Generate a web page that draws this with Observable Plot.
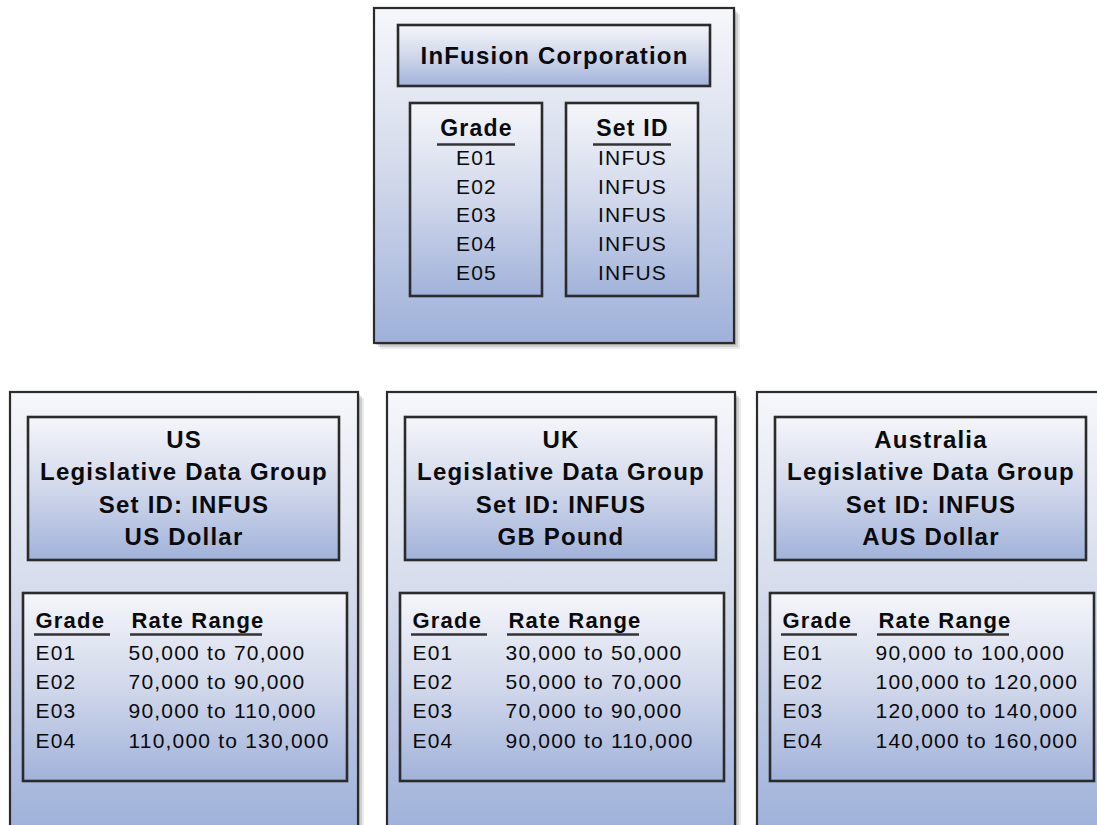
<!DOCTYPE html>
<html>
<head>
<meta charset="utf-8">
<script src="https://cdn.jsdelivr.net/npm/d3@7"></script>
<script src="https://cdn.jsdelivr.net/npm/@observablehq/plot@0.6"></script>
<style>
  html, body { margin: 0; padding: 0; background: #ffffff; }
  #chart svg { display: block; }
</style>
</head>
<body>
<div id="chart"></div>
<script>
// ---------------- DATA ----------------
const enterpriseName = "InFusion Corporation";
const enterpriseColumns = ["Grade", "Set ID"];
const enterpriseGrades = ["E01", "E02", "E03", "E04", "E05"];
const enterpriseSetIds = ["INFUS", "INFUS", "INFUS", "INFUS", "INFUS"];

const ldgCountries = ["US", "UK", "Australia"];
const ldgLabel = "Legislative Data Group";
const ldgSetIds = ["INFUS", "INFUS", "INFUS"];
const ldgCurrencies = ["US Dollar", "GB Pound", "AUS Dollar"];

const rateColumns = ["Grade", "Rate Range"];
const rateGrades = ["E01", "E02", "E03", "E04"];
const usLow = [50000, 70000, 90000, 110000];
const usHigh = [70000, 90000, 110000, 130000];
const ukLow = [30000, 50000, 70000, 90000];
const ukHigh = [50000, 70000, 90000, 110000];
const auLow = [90000, 100000, 120000, 140000];
const auHigh = [100000, 120000, 140000, 160000];
const rateLows = [usLow, ukLow, auLow];
const rateHighs = [usHigh, ukHigh, auHigh];

// ---------------- LAYOUT ----------------
const W = 1097, H = 825;
const fmt = d3.format(",");
const L = {
  top: {x: 374, y: 8, w: 360, h: 335},
  topTitle: {dx: 24, dy: 17, w: 312, h: 61},
  topCol: {dx: [36, 192], dy: 95, w: 132, h: 193, head: 120, line: 136, row0: 150, step: 28.6, ul: 39},
  panelX: [10, 387, 757], panelY: 392, panelW: 348, panelH: 440,
  head: {dx: 18, dy: 25, w: 311, h: 143, line0: 48, step: 32.3},
  table: {dx: 13, dy: 201, w: 324, h: 188, colX: [12, 108], head: 27, line: 41, row0: 60, step: 29.1, ulW: [76, 132]}
};

const boxes = [];   // {x1,x2,y1,y2,kind}
const texts = [];   // {x,y,text,style}
const rules = [];   // {x1,x2,y}

// top enterprise panel
boxes.push({x1: L.top.x, x2: L.top.x + L.top.w, y1: L.top.y, y2: L.top.y + L.top.h, kind: "outer"});
const tb = {x: L.top.x + L.topTitle.dx, y: L.top.y + L.topTitle.dy};
boxes.push({x1: tb.x, x2: tb.x + L.topTitle.w, y1: tb.y, y2: tb.y + L.topTitle.h, kind: "inner"});
texts.push({x: tb.x + L.topTitle.w / 2, y: tb.y + L.topTitle.h / 2, text: enterpriseName, style: "title"});
const topCols = [enterpriseGrades, enterpriseSetIds];
topCols.forEach((vals, c) => {
  const bx = L.top.x + L.topCol.dx[c], by = L.top.y + L.topCol.dy;
  boxes.push({x1: bx, x2: bx + L.topCol.w, y1: by, y2: by + L.topCol.h, kind: "inner"});
  const cx = bx + L.topCol.w / 2;
  texts.push({x: cx, y: L.top.y + L.topCol.head, text: enterpriseColumns[c], style: "topHead"});
  rules.push({x1: cx - L.topCol.ul, x2: cx + L.topCol.ul, y: L.top.y + L.topCol.line});
  vals.forEach((v, i) => texts.push({x: cx, y: L.top.y + L.topCol.row0 + i * L.topCol.step, text: v, style: "topRow"}));
});

// legislative data group panels
ldgCountries.forEach((country, p) => {
  const px = L.panelX[p], py = L.panelY;
  boxes.push({x1: px, x2: px + L.panelW, y1: py, y2: py + L.panelH, kind: "outer"});
  const hx = px + L.head.dx, hy = py + L.head.dy;
  boxes.push({x1: hx, x2: hx + L.head.w, y1: hy, y2: hy + L.head.h, kind: "inner"});
  const lines = [country, ldgLabel, "Set ID: " + ldgSetIds[p], ldgCurrencies[p]];
  lines.forEach((t, i) => texts.push({x: hx + L.head.w / 2, y: py + L.head.line0 + i * L.head.step, text: t, style: "title"}));
  const tx = px + L.table.dx, ty = py + L.table.dy;
  boxes.push({x1: tx, x2: tx + L.table.w, y1: ty, y2: ty + L.table.h, kind: "inner"});
  rateColumns.forEach((h, c) => {
    texts.push({x: tx + L.table.colX[c], y: ty + L.table.head, text: h, style: "head"});
    rules.push({x1: tx + L.table.colX[c] - 1, x2: tx + L.table.colX[c] - 1 + L.table.ulW[c], y: ty + L.table.line});
  });
  rateGrades.forEach((g, i) => {
    const ry = ty + L.table.row0 + i * L.table.step;
    texts.push({x: tx + L.table.colX[0], y: ry, text: g, style: "row"});
    texts.push({x: tx + L.table.colX[1] - 3, y: ry, text: `${fmt(rateLows[p][i])} to ${fmt(rateHighs[p][i])}`, style: "row"});
  });
});

const shadow = (dx, dy) => boxes.map(b => ({...b, x1: b.x1 + dx, x2: b.x2 + dx, y1: b.y1 + dy, y2: b.y2 + dy}));
const textMark = (style, opts) => Plot.text(texts.filter(t => t.style === style), {
  x: "x", y: "y", text: "text", fill: "#0a0a0a", ...opts
});

const chart = Plot.plot({
  width: W, height: H,
  margin: 0,
  x: {domain: [0, W], range: [0, W], axis: null},
  y: {domain: [0, H], range: [0, H], axis: null},
  style: {fontFamily: "'Liberation Sans', Arial, sans-serif", background: "#ffffff"},
  marks: [
    Plot.rect(shadow(6, 6), {x1: "x1", x2: "x2", y1: "y1", y2: "y2", fill: "#000", fillOpacity: 0.08}),
    Plot.rect(shadow(4, 4), {x1: "x1", x2: "x2", y1: "y1", y2: "y2", fill: "#000", fillOpacity: 0.12}),
    Plot.rect(shadow(2, 2), {x1: "x1", x2: "x2", y1: "y1", y2: "y2", fill: "#000", fillOpacity: 0.14}),
    Plot.rect(boxes.filter(b => b.kind === "outer"), {x1: "x1", x2: "x2", y1: "y1", y2: "y2", fill: "url(#gOuter)", stroke: "#2b2b2b", strokeWidth: 2.2}),
    Plot.rect(boxes.filter(b => b.kind === "inner"), {x1: "x1", x2: "x2", y1: "y1", y2: "y2", fill: "url(#gInner)", stroke: "#2b2b2b", strokeWidth: 2.6}),
    Plot.ruleY(rules, {y: "y", x1: "x1", x2: "x2", stroke: "#333", strokeWidth: 2.6}),
    textMark("title", {fontSize: 24, fontWeight: "bold", textAnchor: "middle"}),
    textMark("topHead", {fontSize: 23, fontWeight: "bold", textAnchor: "middle"}),
    textMark("topRow", {fontSize: 21, textAnchor: "middle"}),
    textMark("head", {fontSize: 22, fontWeight: "bold", textAnchor: "start"}),
    textMark("row", {fontSize: 21, textAnchor: "start"})
  ]
});

// gradient definitions used by the rect fills
const svg = d3.select(chart);
const defs = svg.insert("defs", ":first-child");
const grad = (id, stops) => {
  const g = defs.append("linearGradient").attr("id", id).attr("x1", 0).attr("y1", 0).attr("x2", 0).attr("y2", 1);
  stops.forEach(([o, c]) => g.append("stop").attr("offset", o).attr("stop-color", c));
};
grad("gOuter", [[0, "#f6f7fb"], [0.45, "#d6dcec"], [1, "#9fb1da"]]);
grad("gInner", [[0, "#f5f6fa"], [0.5, "#d1d8eb"], [1, "#a1b2da"]]);
svg.selectAll("text").style("letter-spacing", "1.2px");

document.getElementById("chart").appendChild(chart);
</script>
</body>
</html>
